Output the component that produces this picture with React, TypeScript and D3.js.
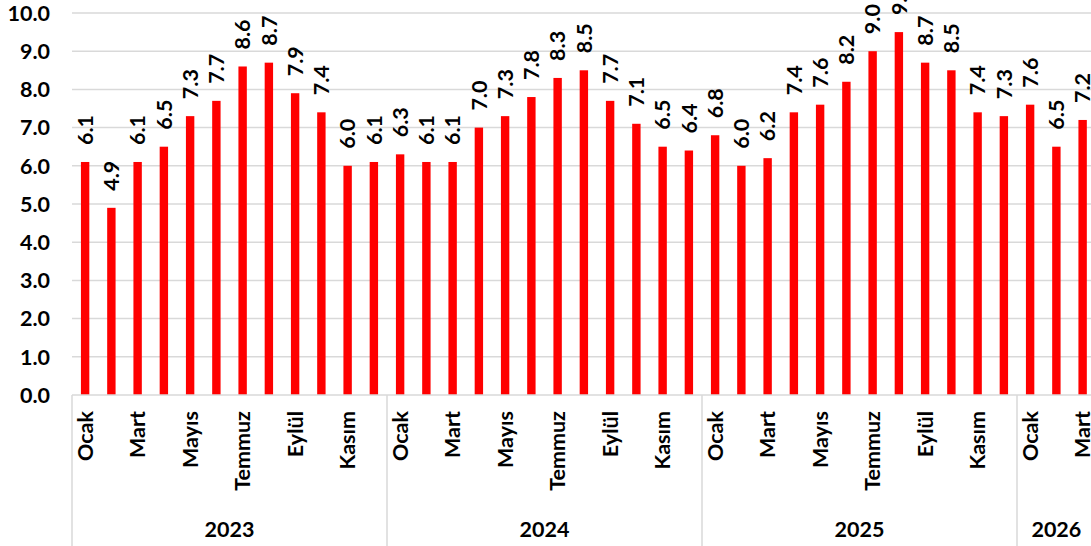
import React from "react";
import * as d3 from "d3";

const years = ["2023", "2024", "2025", "2026"];
const monthNames = ["Ocak", "Şubat", "Mart", "Nisan", "Mayıs", "Haziran", "Temmuz", "Ağustos", "Eylül", "Ekim", "Kasım", "Aralık"];
const values2023 = [6.1, 4.9, 6.1, 6.5, 7.3, 7.7, 8.6, 8.7, 7.9, 7.4, 6.0, 6.1];
const values2024 = [6.3, 6.1, 6.1, 7.0, 7.3, 7.8, 8.3, 8.5, 7.7, 7.1, 6.5, 6.4];
const values2025 = [6.8, 6.0, 6.2, 7.4, 7.6, 8.2, 9.0, 9.5, 8.7, 8.5, 7.4, 7.3];
const values2026 = [7.6, 6.5, 7.2];
const yTicks = [0, 1, 2, 3, 4, 5, 6, 7, 8, 9, 10];

const seriesByYear = [values2023, values2024, values2025, values2026];

type Row = { key: string; year: string; month: string; mi: number; value: number };
const rows: Row[] = [];
seriesByYear.forEach((vals, yi) => {
  vals.forEach((v, mi) => {
    rows.push({ key: `${years[yi]}-${mi}`, year: years[yi], month: monthNames[mi], mi, value: v });
  });
});

const W = 1091;
const H = 546;
const left = 72;
const bandW = 26.25;
const right = left + bandW * 39;
const y0 = 395;
const y10 = 13;
const FONT = "Lato, 'Open Sans', sans-serif";
const FS = 21.5;

export default function App() {
  const x = d3.scaleBand<string>().domain(rows.map((r) => r.key)).range([left, right]).paddingInner(0.68).paddingOuter(0.34);
  const y = d3.scaleLinear().domain([0, 10]).range([y0, y10]);
  const bw = x.bandwidth();
  const step = x.step();

  const groups = years.map((yr) => {
    const rs = rows.filter((r) => r.year === yr);
    const start = left + rows.indexOf(rs[0]) * step;
    const end = start + rs.length * step;
    return { yr, start, end };
  });

  return (
    <svg width={W} height={H} style={{ position: "absolute", left: 0, top: 0, background: "#fff" }} fontFamily={FONT}>
      {yTicks.map((t) => (
        <g key={t}>
          {t > 0 && <line x1={left} x2={W} y1={y(t)} y2={y(t)} stroke="#d9d9d9" strokeWidth={1.5} />}
          <text x={50} y={y(t)} dy="0.36em" textAnchor="end" fontSize={FS} fontWeight="bold" fill="#000">
            {t.toFixed(1)}
          </text>
        </g>
      ))}
      {rows.map((r) => (
        <rect key={r.key} x={x(r.key)} y={y(r.value)} width={bw} height={y0 - y(r.value)} fill="#ff0000" />
      ))}
      {rows.map((r) => {
        const cx = (x(r.key) as number) + bw / 2;
        const ty = y(r.value) - 17;
        return (
          <text key={"l" + r.key} transform={`translate(${cx},${ty}) rotate(-90)`} dy="0.36em" textAnchor="start" fontSize={FS} fontWeight="bold" fill="#000">
            {r.value.toFixed(1)}
          </text>
        );
      })}
      <line x1={left} x2={W} y1={y0} y2={y0} stroke="#d9d9d9" strokeWidth={1.5} />
      {groups.map((g) => (
        <line key={"s" + g.yr} x1={g.start} x2={g.start} y1={y0} y2={H} stroke="#d9d9d9" strokeWidth={1.5} />
      ))}
      {rows
        .filter((r) => r.mi % 2 === 0)
        .map((r) => {
          const cx = (x(r.key) as number) + bw / 2;
          return (
            <text key={"m" + r.key} transform={`translate(${cx},${411}) rotate(-90)`} dy="0.36em" textAnchor="end" fontSize={FS} fontWeight="bold" fill="#000">
              {r.month}
            </text>
          );
        })}
      {groups.map((g) => (
        <text key={"y" + g.yr} x={(g.start + g.end) / 2} y={536.5} textAnchor="middle" fontSize={FS} fontWeight="bold" fill="#000">
          {g.yr}
        </text>
      ))}
    </svg>
  );
}
